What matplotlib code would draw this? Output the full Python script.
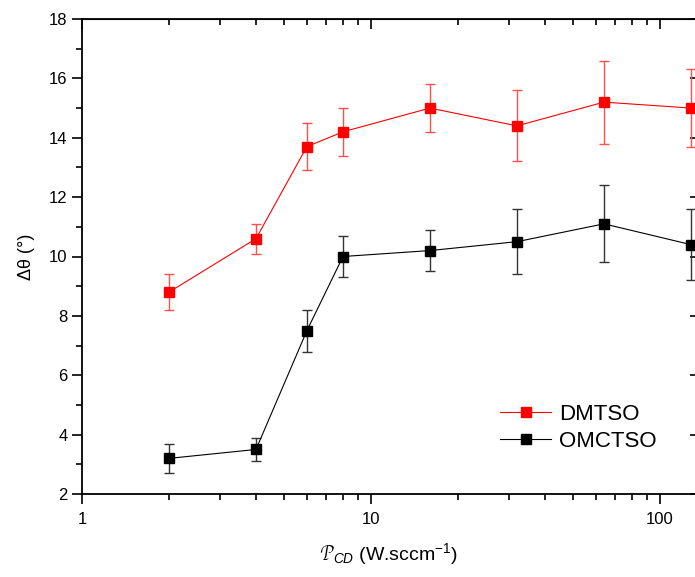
import matplotlib
matplotlib.use("Agg")
import matplotlib.pyplot as plt
from matplotlib.ticker import FixedLocator, NullFormatter, LogLocator
from matplotlib.lines import Line2D

x = [2, 4, 6, 8, 16, 32, 64, 128]
dmtso = [8.8, 10.6, 13.7, 14.2, 15.0, 14.4, 15.2, 15.0]
dmtso_err = [0.6, 0.5, 0.8, 0.8, 0.8, 1.2, 1.4, 1.3]
omctso = [3.2, 3.5, 7.5, 10.0, 10.2, 10.5, 11.1, 10.4]
omctso_err = [0.5, 0.4, 0.7, 0.7, 0.7, 1.1, 1.3, 1.2]

plt.rcParams['font.family'] = ['Liberation Sans', 'DejaVu Sans']
plt.rcParams['mathtext.fontset'] = 'custom'
plt.rcParams['mathtext.rm'] = 'Liberation Sans'
plt.rcParams['mathtext.it'] = 'Liberation Sans:italic'

fig = plt.figure(figsize=(6.95, 5.77), dpi=100)
ax = fig.add_axes([82/695, 1-494/577, 615/695, 475/577])

ax.errorbar(x, dmtso, yerr=dmtso_err, color='#ff0000', ecolor='#ff5050',
            marker='s', markersize=7.5, linewidth=0.8, elinewidth=1.0,
            capsize=3.8, capthick=1.0, zorder=3)
ax.errorbar(x, omctso, yerr=omctso_err, color='black', ecolor='#333333',
            marker='s', markersize=7.5, linewidth=0.8, elinewidth=1.0,
            capsize=3.8, capthick=1.0, zorder=3)

ax.set_xscale('log')
ax.set_xlim(1, 134.3)
ax.set_ylim(2, 18)
ax.set_yticks(range(2, 19, 2))
ax.yaxis.set_minor_locator(FixedLocator(range(3, 18, 2)))
ax.xaxis.set_major_locator(FixedLocator([1, 10, 100]))
ax.set_xticklabels(['1', '10', '100'])
ax.xaxis.set_minor_locator(LogLocator(base=10, subs=range(2, 10)))
ax.xaxis.set_minor_formatter(NullFormatter())

for s in ax.spines.values():
    s.set_linewidth(1.3)

ax.tick_params(axis='both', which='major', direction='out', length=7, width=1.2,
               labelsize=12, top=False, right=False)
ax.tick_params(axis='both', which='minor', direction='out', length=4, width=1.2,
               top=False, right=False)
ax.tick_params(axis='x', pad=6)

# mirrored inward ticks on top/right
axt = ax.secondary_xaxis('top')
axt.set_xticks([1, 10, 100])
axt.xaxis.set_minor_locator(LogLocator(base=10, subs=range(2, 10)))
axt.tick_params(which='major', direction='in', length=7, width=1.2, labeltop=False)
axt.tick_params(which='minor', direction='in', length=4, width=1.2)
axt.xaxis.set_minor_formatter(NullFormatter())
axt.set_xticklabels([])
axr = ax.secondary_yaxis('right')
axr.set_yticks(range(2, 19, 2))
axr.yaxis.set_minor_locator(FixedLocator([]))
axr.tick_params(which='major', direction='in', length=5, width=1.2)
axr.set_yticklabels([])

ax.set_ylabel('Δθ (°)', fontsize=13, labelpad=10)
ax.set_xlabel(r'$\mathcal{P}_{\mathit{CD}}$ (W.sccm$^{-1}$)', fontsize=14, labelpad=10)

handles = [
    Line2D([], [], color='#ff0000', marker='s', markersize=7.5, linewidth=0.8),
    Line2D([], [], color='black', marker='s', markersize=7.5, linewidth=0.8),
]
leg = fig.legend(handles, ['DMTSO', 'OMCTSO'], loc='upper left',
                 bbox_to_anchor=(500/695, 1-404/577), frameon=False,
                 fontsize=16, handlelength=2.3, handletextpad=0.35,
                 labelspacing=0.25, borderpad=0, borderaxespad=0)

fig.savefig('out.png', dpi=100)
